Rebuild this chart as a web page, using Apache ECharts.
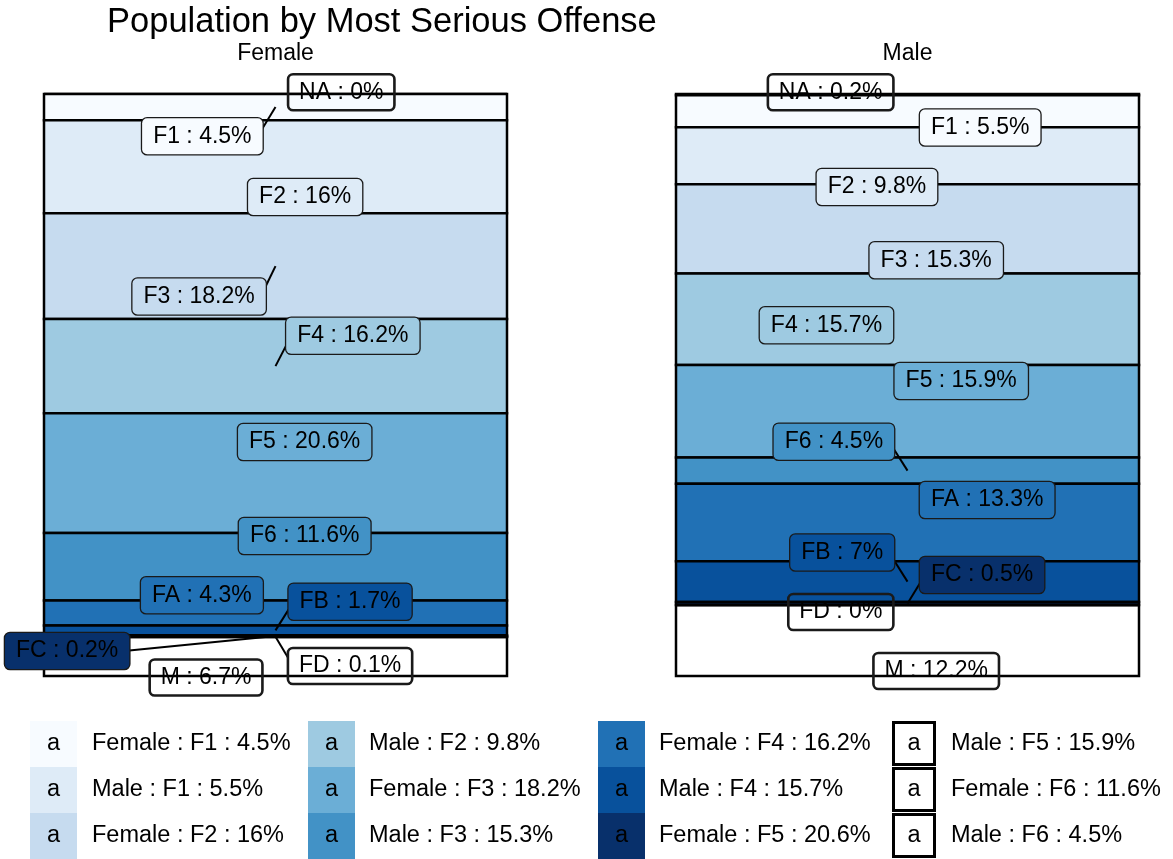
<!DOCTYPE html>
<html>
<head>
<meta charset="utf-8">
<script src="https://cdn.jsdelivr.net/npm/echarts@6/dist/echarts.min.js"></script>
<style>
  html, body { margin: 0; padding: 0; background: #fff; }
  #chart { width: 1173px; height: 859px; }
</style>
</head>
<body>
<div id="chart"></div>
<script>
const offenses = ['NA', 'F1', 'F2', 'F3', 'F4', 'F5', 'F6', 'FA', 'FB', 'FC', 'FD', 'M'];
const femalePct = [0, 4.5, 16, 18.2, 16.2, 20.6, 11.6, 4.3, 1.7, 0.2, 0.1, 6.7];
const malePct = [0.2, 5.5, 9.8, 15.3, 15.7, 15.9, 4.5, 13.3, 7, 0.5, 0, 12.2];
const blues = ['#f7fbff', '#deebf7', '#c6dbef', '#9ecae1', '#6baed6', '#4292c6', '#2171b5', '#08519c', '#08306b'];
// legend levels (the 12 first fill levels)
const legendSex = ['Female', 'Male'];
const legendOffenses = ['F1', 'F2', 'F3', 'F4', 'F5', 'F6'];
// repelled label positions: x as share of bar width, y in % from the top
const femaleLabelX = [0.642, 0.342, 0.564, 0.335, 0.667, 0.563, 0.563, 0.341, 0.661, 0.050, 0.661, 0.350];
const femaleLabelY = [-0.29, 7.27, 17.70, 34.79, 41.53, 59.79, 75.95, 86.13, 87.23, 95.70, 98.28, 100.26];
const maleLabelX = [0.334, 0.657, 0.434, 0.562, 0.325, 0.616, 0.341, 0.672, 0.359, 0.661, 0.356, 0.562];
const maleLabelY = [-0.29, 5.76, 15.98, 28.57, 39.74, 49.31, 59.74, 69.76, 78.78, 82.65, 89.00, 99.14];

const FONT = '"Liberation Sans", Arial, Helvetica, sans-serif';
const FS = 23, PADX = 11, PADY = 6.5;
const NONE = 'rgba(0,0,0,0)';

function fillOf(i) {
  // NA, FD and M fall outside the 9-colour palette -> no fill
  return i >= 1 && i <= 9 ? blues[i - 1] : NONE;
}

function stackOf(pcts) {
  const total = pcts.reduce((a, b) => a + b, 0);
  let acc = 0;
  return pcts.map(v => {
    const y0 = acc / total * 100;
    acc += v;
    return [y0, acc / total * 100];
  });
}

const measure = document.createElement('canvas').getContext('2d');
measure.font = FS + 'px ' + FONT;

function labelText(pcts, i) {
  return offenses[i] + ' : ' + pcts[i] + '%';
}

function labelBox(pcts, i, c) {
  const w = measure.measureText(labelText(pcts, i)).width + 2 * PADX;
  const h = FS + 2 * PADY;
  return { x0: c[0] - w / 2, x1: c[0] + w / 2, y0: c[1] - h / 2, y1: c[1] + h / 2 };
}

function segmentSeries(pcts, g) {
  const st = stackOf(pcts);
  return {
    type: 'custom',
    xAxisIndex: g, yAxisIndex: g,
    clip: false, z: 2,
    data: st.map((s, i) => [s[0], s[1], i]),
    renderItem(params, api) {
      const p0 = api.coord([0, api.value(0)]);
      const p1 = api.coord([1, api.value(1)]);
      return {
        type: 'rect',
        shape: { x: p0[0], y: p0[1], width: p1[0] - p0[0], height: p1[1] - p0[1] },
        style: { fill: fillOf(api.value(2)), stroke: '#000', lineWidth: 2.5 }
      };
    }
  };
}

function leaderSeries(pcts, lx, ly, g) {
  const st = stackOf(pcts);
  return {
    type: 'custom',
    xAxisIndex: g, yAxisIndex: g,
    clip: false, z: 3,
    data: pcts.map((v, i) => [lx[i], ly[i], (st[i][0] + st[i][1]) / 2, i]),
    renderItem(params, api) {
      const i = api.value(3);
      const c = api.coord([api.value(0), api.value(1)]);
      const a = api.coord([0.5, api.value(2)]);
      const b = labelBox(pcts, i, c);
      const dx = Math.max(b.x0 - a[0], 0, a[0] - b.x1);
      const dy = Math.max(b.y0 - a[1], 0, a[1] - b.y1);
      // short gaps get no segment
      if (Math.hypot(dx, dy) <= 15) return null;
      let end;
      if (dx > 0) {
        const edgeX = a[0] < b.x0 ? b.x0 : b.x1;
        const tx = a[0] < b.x0 ? b.x0 + 5 : b.x1 - 5;
        const t = (edgeX - a[0]) / (tx - a[0]);
        end = [edgeX, a[1] + t * (c[1] - a[1])];
      } else {
        end = [a[0], a[1] < b.y0 ? b.y0 : b.y1];
      }
      return {
        type: 'line',
        shape: { x1: a[0], y1: a[1], x2: end[0], y2: end[1] },
        style: { stroke: '#000', lineWidth: 2 }
      };
    }
  };
}

function labelSeries(pcts, lx, ly, g) {
  return {
    type: 'custom',
    xAxisIndex: g, yAxisIndex: g,
    clip: false, z: 4,
    data: pcts.map((v, i) => [lx[i], ly[i], i]),
    renderItem(params, api) {
      const i = api.value(2);
      const c = api.coord([api.value(0), api.value(1)]);
      return {
        type: 'text',
        style: {
          text: labelText(pcts, i),
          x: c[0], y: c[1],
          fontSize: FS, fontFamily: FONT, fill: '#000',
          align: 'center', verticalAlign: 'middle',
          backgroundColor: fillOf(i),
          borderColor: '#1a1a1a', borderWidth: 1.3, borderRadius: 5,
          padding: [PADY, PADX]
        }
      };
    }
  };
}

// legend built from the first 12 fill levels
const legendNames = [];
legendOffenses.forEach(o => {
  const k = offenses.indexOf(o);
  legendNames.push(legendSex[0] + ' : ' + o + ' : ' + femalePct[k] + '%');
  legendNames.push(legendSex[1] + ' : ' + o + ' : ' + malePct[k] + '%');
});

const keyX = [30, 308, 598, 892];
const textX = [92, 369, 659, 951];
const graphics = [
  { type: 'text', x: 107, y: 22,
    style: { text: 'Population by Most Serious Offense', fontSize: 34.5, fontFamily: FONT, fill: '#000', verticalAlign: 'middle' } },
  { type: 'text', x: 275.5, y: 54,
    style: { text: 'Female', fontSize: 23, fontFamily: FONT, fill: '#000', align: 'center', verticalAlign: 'middle' } },
  { type: 'text', x: 907.5, y: 54,
    style: { text: 'Male', fontSize: 23, fontFamily: FONT, fill: '#000', align: 'center', verticalAlign: 'middle' } }
];
legendNames.forEach((name, i) => {
  const col = Math.floor(i / 3), row = i % 3;
  const top = 721 + row * 46;
  if (i < 9) {
    graphics.push({ type: 'rect', shape: { x: keyX[col], y: top, width: 47, height: 46 }, style: { fill: blues[i] } });
  } else {
    graphics.push({ type: 'rect', shape: { x: keyX[col] + 1.5, y: top + 1.5, width: 41, height: 42 },
      style: { fill: NONE, stroke: '#000', lineWidth: 3 } });
  }
  const kc = i < 9 ? keyX[col] + 23.5 : keyX[col] + 22;
  graphics.push({ type: 'text', x: kc, y: top + 23,
    style: { text: 'a', fontSize: 23.5, fontFamily: FONT, fill: '#000', align: 'center', verticalAlign: 'middle' } });
  graphics.push({ type: 'text', x: textX[col], y: top + 23,
    style: { text: name, fontSize: 23.5, fontFamily: FONT, fill: '#000', verticalAlign: 'middle' } });
});

const chart = echarts.init(document.getElementById('chart'), null, { renderer: 'canvas' });
chart.setOption({
  animation: false,
  backgroundColor: '#fff',
  grid: [
    { left: 44, top: 94, width: 463, height: 582 },
    { left: 676, top: 94, width: 463, height: 582 }
  ],
  xAxis: [
    { type: 'value', gridIndex: 0, min: 0, max: 1, show: false },
    { type: 'value', gridIndex: 1, min: 0, max: 1, show: false }
  ],
  yAxis: [
    { type: 'value', gridIndex: 0, min: 0, max: 100, inverse: true, show: false },
    { type: 'value', gridIndex: 1, min: 0, max: 100, inverse: true, show: false }
  ],
  graphic: graphics,
  series: [
    segmentSeries(femalePct, 0),
    segmentSeries(malePct, 1),
    leaderSeries(femalePct, femaleLabelX, femaleLabelY, 0),
    leaderSeries(malePct, maleLabelX, maleLabelY, 1),
    labelSeries(femalePct, femaleLabelX, femaleLabelY, 0),
    labelSeries(malePct, maleLabelX, maleLabelY, 1)
  ]
});
</script>
</body>
</html>
